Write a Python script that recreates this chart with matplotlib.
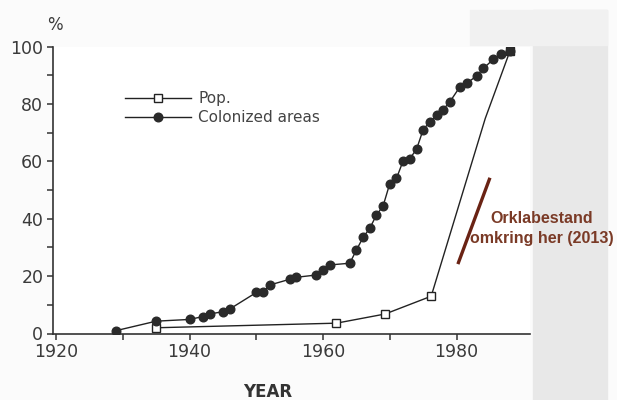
import matplotlib
matplotlib.use("Agg")
import matplotlib.pyplot as plt
from matplotlib.patches import Rectangle

# colonized areas (%), filled circles
col_years = [1929, 1935, 1940, 1942, 1943, 1945, 1946, 1950, 1951, 1952,
             1955, 1956, 1959, 1960, 1961, 1964, 1965, 1966, 1967, 1968,
             1969, 1970, 1971, 1972, 1973, 1974, 1975, 1976, 1977, 1978,
             1979, 1980.5, 1981.5, 1983, 1984, 1985.5, 1986.7, 1988]
col_vals = [1.0, 4.3, 4.9, 5.9, 6.8, 7.6, 8.5, 14.3, 14.3, 16.9,
            18.9, 19.6, 20.4, 22.1, 23.9, 24.5, 29.1, 33.5, 36.7, 41.3,
            44.5, 52.3, 54.1, 60.2, 61.0, 64.2, 71.1, 73.8, 76.1, 78.1,
            80.8, 86.0, 87.2, 89.8, 92.4, 95.6, 97.6, 98.4]

# population (%), open squares
pop_years = [1935, 1962, 1969.3, 1976.2, 1984.3, 1988]
pop_vals = [2.0, 3.6, 6.8, 13.0, 75.0, 98.5]
pop_marked = [0, 1, 2, 3, 5]

# hand drawn annotation (brown stroke)
note_x = [1980.2, 1985.0]
note_y = [24.2, 54.3]
note_text = "Orklabestand\nomkring her (2013)"

xticks = [1920, 1940, 1960, 1980]
yticks = [0, 20, 40, 60, 80, 100]

fig = plt.figure(figsize=(6.17, 4.0), dpi=100, facecolor="#fbfbfb")
# grey paper strips of the scan, kept behind the axes
fig.patches.append(Rectangle((533 / 617, 0), 74 / 617, 0.975, transform=fig.transFigure,
                             color="#e8e8e8", zorder=-5))
fig.patches.append(Rectangle((470 / 617, 355 / 400), 137 / 617, 35 / 400, transform=fig.transFigure,
                             color="#f1f1f1", zorder=-5))

ax = fig.add_axes([53 / 617, 66.5 / 400, 477 / 617, 286.8 / 400])
ax.set_facecolor("white")

ax.plot(pop_years, pop_vals, color="#222222", lw=1.0, marker="s", markevery=pop_marked,
        markersize=6, markerfacecolor="white", markeredgecolor="#222222",
        markeredgewidth=1.0, label="Pop.", zorder=3)
ax.plot(col_years, col_vals, color="#222222", lw=1.0, marker="o", markersize=6.2,
        markerfacecolor="#2a2a2a", markeredgecolor="#2a2a2a", label="Colonized areas", zorder=4)

ax.plot(note_x, note_y, color="#6a2314", lw=2.4, solid_capstyle="butt", zorder=5, clip_on=False)
ax.text(1992.7, 36.6, note_text, ha="center", va="center", color="#7a3a26",
        family="Liberation Sans", fontweight="bold", fontsize=11.5, linespacing=1.45,
        clip_on=False, zorder=6)

ax.set_xlim(1919.55, 1991)
ax.set_ylim(0, 100)
ax.set_xticks(xticks)
ax.set_xticks([1930, 1950, 1970], minor=True)
ax.set_yticks(yticks)
ax.set_yticks([10, 30, 50, 70, 90], minor=True)

for s in ["top", "right"]:
    ax.spines[s].set_visible(False)
for s in ["left", "bottom"]:
    ax.spines[s].set_color("#333333")
    ax.spines[s].set_linewidth(1.2)

ax.tick_params(which="both", direction="out", length=4, width=1.1, color="#333333",
               labelsize=12.5, labelcolor="#3a3a3a", pad=3)

leg = ax.legend(loc="upper left", bbox_to_anchor=(0.151, 0.845), frameon=False,
                handlelength=4.3, handletextpad=0.5, labelspacing=0.25,
                borderpad=0, borderaxespad=0, fontsize=11)
for t in leg.get_texts():
    t.set_color("#444444")

fig.text(55 / 617, 1 - 25 / 400, "%", ha="center", va="center", fontsize=12, color="#3a3a3a")
fig.text(268 / 617, 1 - 392 / 400, "YEAR", ha="center", va="center", fontsize=12,
         fontweight="bold", color="#333333")

fig.savefig("out.png", dpi=100, facecolor=fig.get_facecolor())
